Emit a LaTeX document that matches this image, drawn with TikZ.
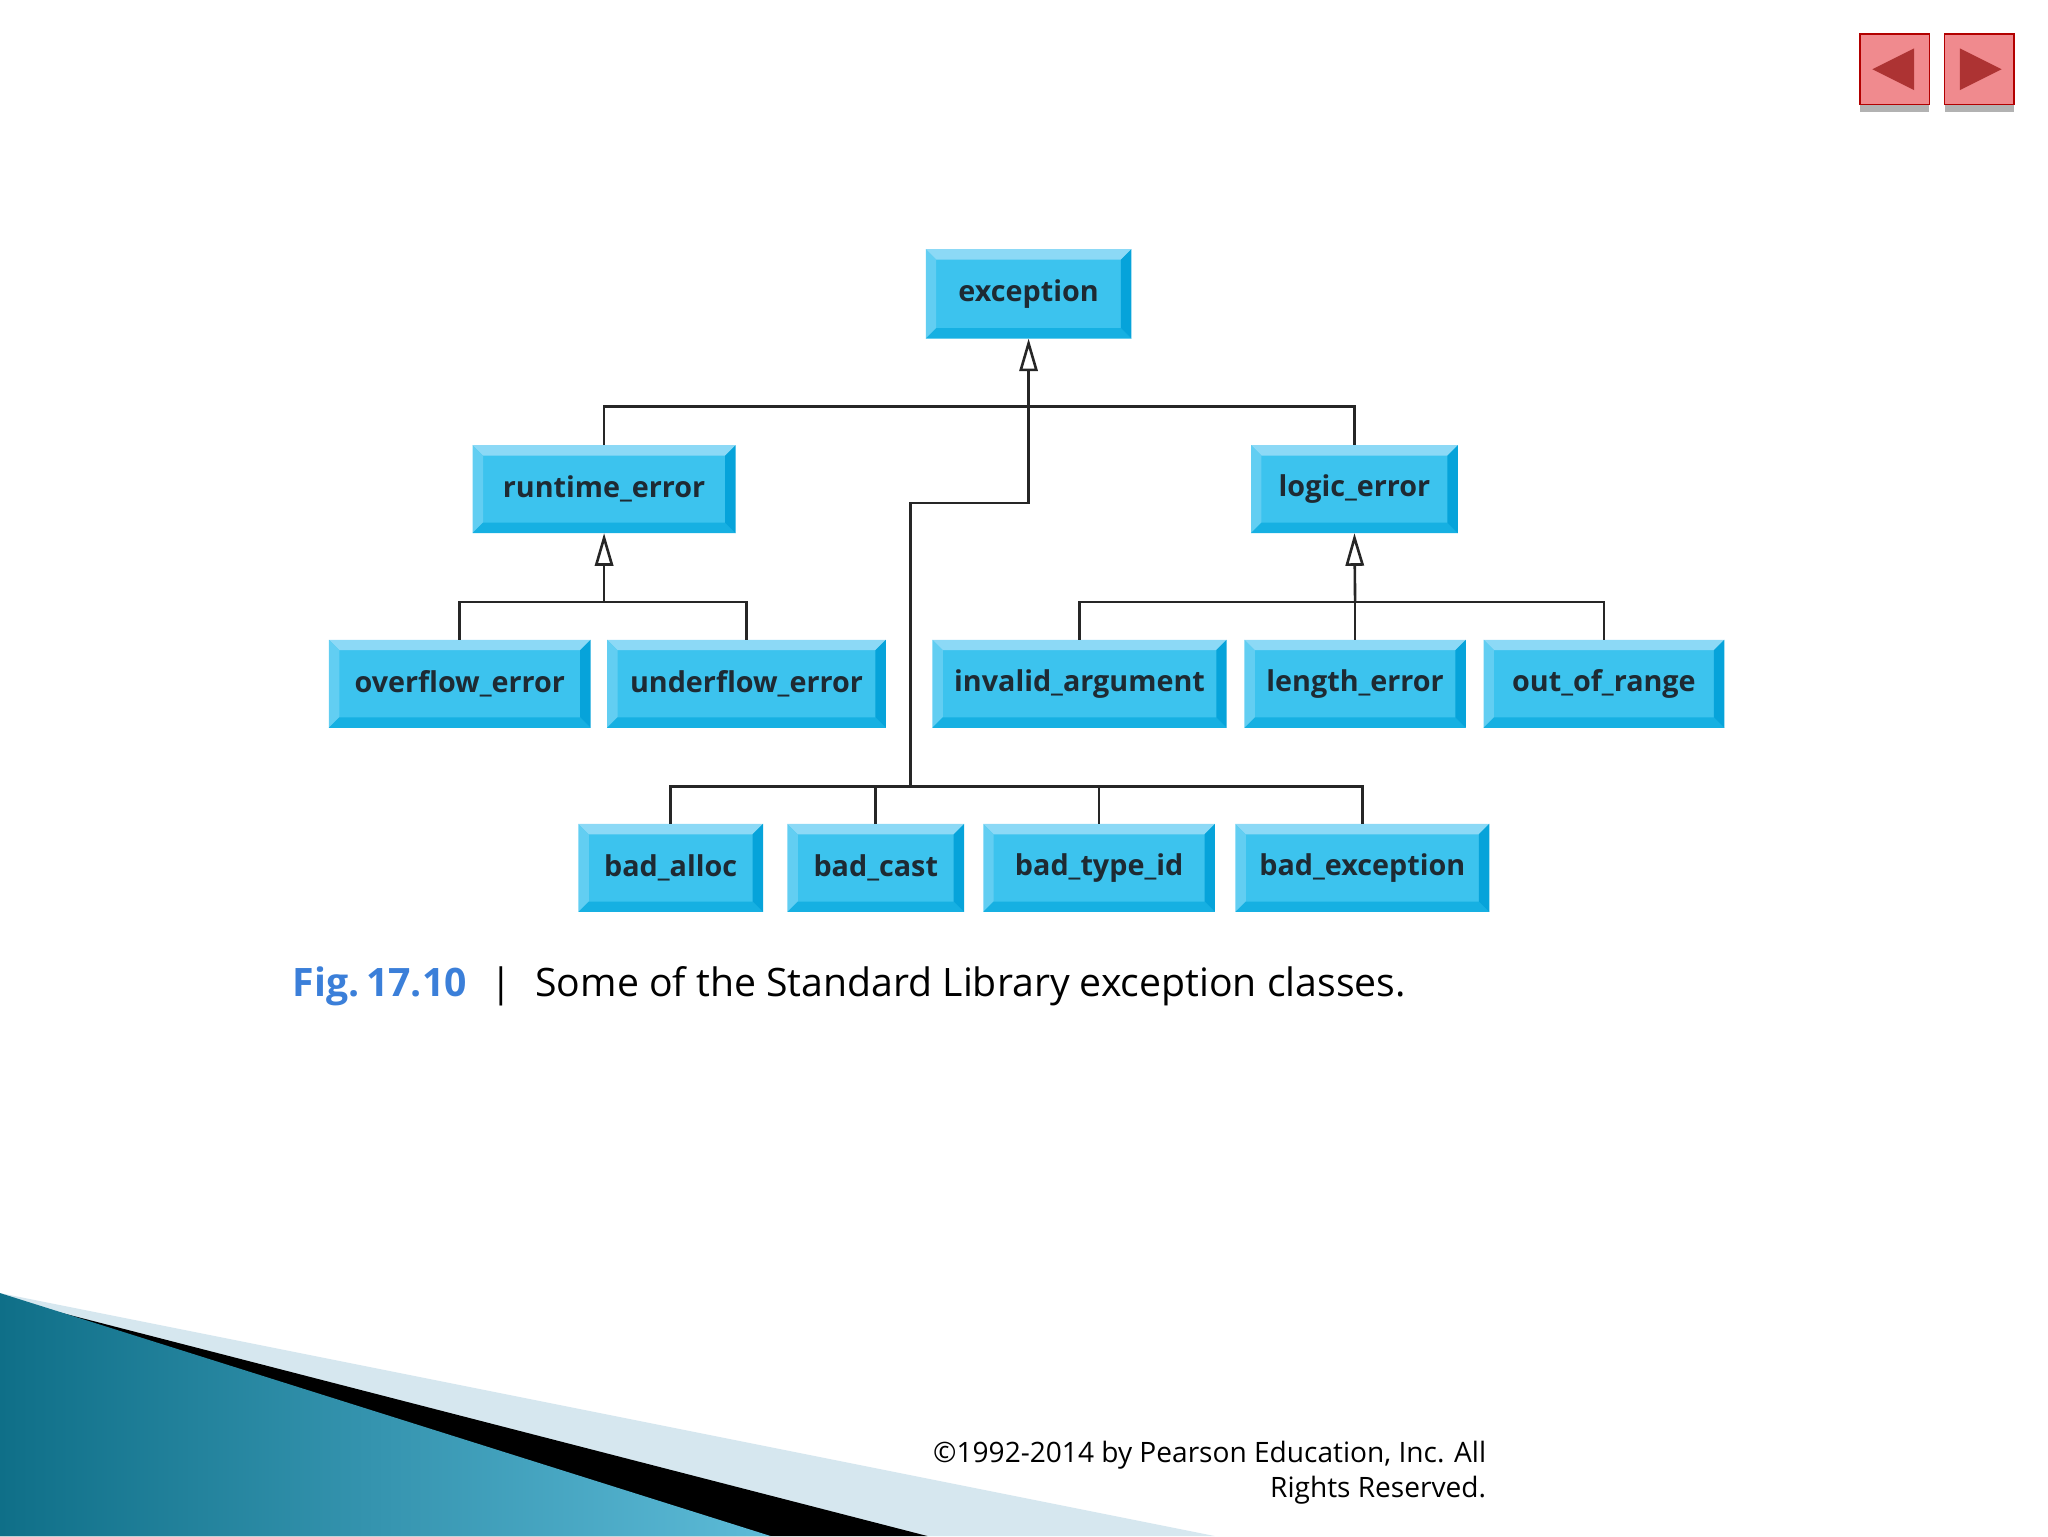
\documentclass[tikz,border=0pt]{standalone}
\usepackage{fontspec}
\setmainfont{Open Sans}
\usetikzlibrary{arrows.meta}
\definecolor{boxmid}{HTML}{3CC3EE}
\definecolor{boxtop}{HTML}{8CD9F6}
\definecolor{boxleft}{HTML}{62CEF2}
\definecolor{boxbot}{HTML}{16B0E2}
\definecolor{boxright}{HTML}{06A3DA}
\definecolor{boxtext}{HTML}{1E2A33}
\definecolor{figblue}{HTML}{3B7FD9}
\definecolor{navred}{HTML}{F08A8E}
\definecolor{bandlight}{HTML}{D6E7EF}
\definecolor{tealdark}{HTML}{0F6F88}
\definecolor{teallight}{HTML}{5DBBD8}
\tikzset{
  exbox/.style={rectangle,fill=boxmid,inner sep=0pt,minimum height=67pt,text=boxtext,font=\fontsize{22}{22}\selectfont\bfseries},
  inherit/.style={draw=black!85,line width=2pt},
  isa/.style={inherit,-{Triangle[open,length=25pt,width=14pt,line width=2pt]}},
}
\begin{document}
\begin{tikzpicture}[x=1pt,y=-1pt]
\useasboundingbox (0,0) rectangle (1568,1176);
%boxes
\node[exbox,minimum width=157pt,minimum height=68pt] (exc) at (787.5,225) {exception};
\node[exbox,minimum width=201pt] (rt) at (462.5,374.5) {runtime\_error};
\node[exbox,minimum width=158pt] (lg) at (1037,374.5) {logic\_error};
\node[exbox,minimum width=200pt] (ovf) at (352,523.5) {overflow\_error};
\node[exbox,minimum width=213pt] (unf) at (571.5,523.5) {underflow\_error};
\node[exbox,minimum width=225pt] (inv) at (826.5,523.5) {invalid\_argument};
\node[exbox,minimum width=169pt] (len) at (1037.5,523.5) {length\_error};
\node[exbox,minimum width=184pt] (oor) at (1228,523.5) {out\_of\_range};
\node[exbox,minimum width=141pt] (ba) at (513.5,664.5) {bad\_alloc};
\node[exbox,minimum width=135pt] (bc) at (670.5,664.5) {bad\_cast};
\node[exbox,minimum width=177pt] (bt) at (841.5,664.5) {bad\_type\_id};
\node[exbox,minimum width=194pt] (be) at (1043,664.5) {bad\_exception};
%bevels
\foreach \b in {exc,rt,lg,ovf,unf,inv,len,oor,ba,bc,bt,be}{
  \fill[boxtop] (\b.north west) -- (\b.north east) -- ([shift={(-8,8)}]\b.north east) -- ([shift={(8,8)}]\b.north west) -- cycle;
  \fill[boxleft] (\b.north west) -- ([shift={(8,8)}]\b.north west) -- ([shift={(8,-8)}]\b.south west) -- (\b.south west) -- cycle;
  \fill[boxbot] (\b.south west) -- ([shift={(8,-8)}]\b.south west) -- ([shift={(-8,-8)}]\b.south east) -- (\b.south east) -- cycle;
  \fill[boxright] (\b.north east) -- (\b.south east) -- ([shift={(-8,-8)}]\b.south east) -- ([shift={(-8,8)}]\b.north east) -- cycle;
}
%connectors
\coordinate (j1) at (787.5,311);
\coordinate (j2) at (462.5,461);
\coordinate (j3) at (1037.5,461);
\coordinate (j4) at (697,602);
\draw[isa] (j1) -- (exc.south);
\draw[inherit] (rt.north) |- (j1) -| (lg.north);
\draw[inherit] (j1) |- (697,385) -- (j4);
\draw[inherit] (ba.north) |- (j4) -| (be.north);
\draw[inherit] (bc.north) -- (bc.north |- j4);
\draw[inherit] (bt.north) -- (bt.north |- j4);
\draw[isa] (j2) -- (rt.south);
\draw[inherit] (ovf.north) |- (j2) -| (unf.north);
\draw[isa] (j3) -- (lg.south);
\draw[inherit] (inv.north) |- (j3) -| (oor.north);
\draw[inherit] (len.north) -- (j3);
%caption
\node[anchor=base west,font=\fontsize{30}{30}\selectfont,inner sep=0pt] (cap) at (224,763)
  {\textcolor{figblue}{\bfseries Fig.\,17.10}\hspace{18pt}|\hspace{18pt}Some of the Standard Library exception classes.};
%navigation
\foreach \x/\d in {1424/-1,1489/1}{
  \fill[gray!60] (\x,80) rectangle ++(53,6);
  \fill[navred,draw=red!70!black,line width=1pt] (\x,26) rectangle ++(53,54);
  \fill[red!60!black!80] (\x+26.5+\d*17,53) -- (\x+26.5-\d*15,37) -- (\x+26.5-\d*15,69) -- cycle;
}
%corner
\fill[bandlight] (0,990) -- (930,1176) -- (0,1176) -- cycle;
\fill[black] (0,993) -- (710,1176) -- (0,1176) -- cycle;
\shade[left color=tealdark,right color=teallight] (0,990) -- (590,1176) -- (0,1176) -- cycle;
\node[anchor=north east,align=right,font=\fontsize{21.5}{27}\selectfont,inner sep=0pt] (copy) at (1138,1103)
  {©1992-2014 by Pearson Education, Inc. All\\Rights Reserved.};
\end{tikzpicture}
\end{document}
